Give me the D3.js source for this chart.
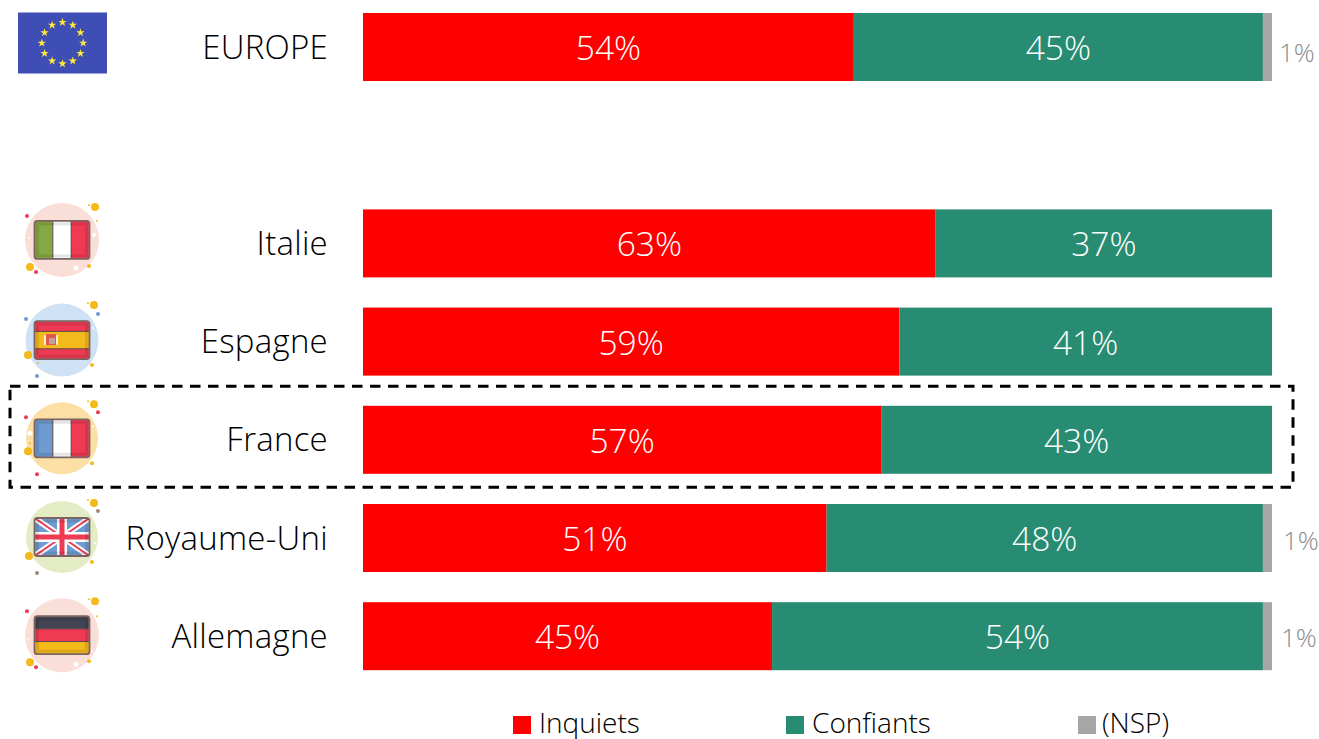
<!DOCTYPE html>
<html lang="fr">
<head>
<meta charset="utf-8">
<title>Inquiets / Confiants</title>
<script src="https://cdn.jsdelivr.net/npm/d3@7"></script>
<style>
    html, body { margin: 0; padding: 0; background: #fff; overflow: hidden; }
    svg { display: block; font-family: "Open Sans", sans-serif; font-weight: 300; }
    .axis path { display: none; }
    .axis text { font-family: "Open Sans", sans-serif; font-weight: 300; font-size: 33px; fill: #000; letter-spacing: .25px; }
    .value { font-size: 33.5px; fill: #fff; text-anchor: middle; }
    .nsp-label { font-size: 26px; fill: #8c8c8c; }
    .legend text { font-size: 28px; fill: #000; }
</style>
</head>
<body>
<div id="chart"></div>
<script>
var countries = ["EUROPE", "", "Italie", "Espagne", "France", "Royaume-Uni", "Allemagne"];
var seriesNames = ["Inquiets", "Confiants", "(NSP)"];
var inquiets = [54, null, 63, 59, 57, 51, 45];
var confiants = [45, null, 37, 41, 43, 48, 54];
var nsp = [1, null, 0, 0, 0, 1, 1];
var colors = ["#ff0000", "#288c72", "#a6a6a6"];

// the 1% labels don't sit on one line in the original
var nspNudge = { "EUROPE": [7, 6], "Royaume-Uni": [11, 3], "Allemagne": [9, 1] };

var width = 1319,
    height = 739,
    margin = { top: 13, left: 363, right: 47 };

var svg = d3.select("#chart").append("svg")
    .attr("width", width)
    .attr("height", height);

var x = d3.scaleLinear()
    .domain([0, 100])
    .range([margin.left, width - margin.right]);

var y = d3.scaleBand()
    .domain(countries)
    .range([margin.top, margin.top + 98.2 * 7 - 30.2])
    .paddingInner(30.2 / 98.2);

var color = d3.scaleOrdinal(seriesNames, colors);

var rows = countries.map(function (c, i) {
    return { country: c, "Inquiets": inquiets[i], "Confiants": confiants[i], "(NSP)": nsp[i] };
}).filter(function (d) { return d.country !== ""; });

var stacked = d3.stack().keys(seriesNames)(rows);

// France highlight box goes under the bars
svg.append("rect")
    .attr("x", 10)
    .attr("y", y("France") - 19.5)
    .attr("width", 1283)
    .attr("height", 101)
    .attr("fill", "none")
    .attr("stroke", "#000")
    .attr("stroke-width", 3)
    .attr("stroke-dasharray", "10.5,7.5");

var layer = svg.selectAll(".layer")
    .data(stacked)
    .enter().append("g")
    .attr("class", "layer")
    .attr("fill", function (d) { return color(d.key); });

layer.selectAll("rect")
    .data(function (d) { return d; })
    .enter().append("rect")
    .attr("x", function (d) { return x(d[0]); })
    .attr("y", function (d) { return y(d.data.country); })
    .attr("width", function (d) { return x(d[1]) - x(d[0]); })
    .attr("height", y.bandwidth());

// white labels for red and green only
svg.selectAll(".value-group")
    .data(stacked.slice(0, 2))
    .enter().append("g")
    .attr("class", "value-group")
    .selectAll("text")
    .data(function (d) { return d; })
    .enter().append("text")
    .attr("class", "value")
    .attr("x", function (d) { return (x(d[0]) + x(d[1])) / 2; })
    .attr("y", function (d) { return y(d.data.country) + y.bandwidth() / 2 + 1; })
    .attr("dy", ".36em")
    .text(function (d) { return (d[1] - d[0]) + "%"; });

svg.selectAll(".nsp-label")
    .data(rows.filter(function (d) { return d["(NSP)"] > 0; }))
    .enter().append("text")
    .attr("class", "nsp-label")
    .attr("x", function (d) { return x(100) + nspNudge[d.country][0]; })
    .attr("y", function (d) { return y(d.country) + y.bandwidth() / 2 + nspNudge[d.country][1]; })
    .attr("dy", ".36em")
    .text(function (d) { return d["(NSP)"] + "%"; });

var yAxis = d3.axisLeft(y)
    .tickSize(0)
    .tickPadding(35);

svg.append("g")
    .attr("class", "axis")
    .attr("transform", "translate(" + margin.left + ",1)")
    .call(yAxis);

// legend
var legendX = [513, 786, 1078];
var legendTextX = [26, 26, 24];
var legend = svg.selectAll(".legend")
    .data(seriesNames)
    .enter().append("g")
    .attr("class", "legend")
    .attr("transform", function (d, i) { return "translate(" + legendX[i] + ",716)"; });

legend.append("rect")
    .attr("width", 18)
    .attr("height", 18)
    .attr("fill", function (d) { return color(d); });

legend.append("text")
    .attr("x", function (d, i) { return legendTextX[i]; })
    .attr("y", 16.5)
    .text(function (d) { return d; });

// ---- flags ----
var yellow = "#f4b91a", red = "#ef3a54", blue = "#6e9bd1", white = "#fff", brown = "#a08a76";

var flagSpecs = {
    "Italie": { bg: "#f9dfd7", r: 37, dy: -3.5, dots: [[33, -33, 4, yellow], [27, -35, 1, yellow], [-35, -24, 2, red], [35, -19, 1, yellow], [-33, -2, 1, white], [32, -5, 2, white], [-32, 27, 4, yellow], [-26, 32, 2, red], [14, 28, 2.5, white], [27, 26, 2, yellow]] },
    "Espagne": { bg: "#cfe1f4", r: 36.5, dy: -1.5, dots: [[32, -35, 4, yellow], [26, -37, 1, yellow], [36, -26, 2, blue], [-36, -21, 2, blue], [31, -12, 1, white], [-34, 15, 4, yellow], [-24, 23, 1, yellow], [-25, 36, 2, blue], [30, 25, 2, yellow]] },
    "France": { bg: "#fbdfa4", r: 36, dy: -1.5, dots: [[32, -34, 4, yellow], [26, -37, 1, yellow], [36, -26, 2, red], [-36, -21, 2, red], [-32, -5, 2.5, white], [-32, 5, 1, yellow], [-34, 13, 4, yellow], [-25, 36, 2, red], [30, 25, 2, yellow], [31, -12, 1, white]] },
    "Royaume-Uni": { bg: "#e4ecc6", r: 36, dy: -1, dots: [[32, -34, 4, yellow], [26, -37, 1, yellow], [36, -26, 2, brown], [33, 6, 1, white], [-33, 19, 4, yellow], [-25, 36, 2, brown], [30, 25, 2, yellow]] },
    "Allemagne": { bg: "#f9dfd7", r: 37, dy: -1, dots: [[33, -34, 4, yellow], [27, -36, 1, yellow], [-35, -24, 2, red], [35, -19, 1, yellow], [-34, 4, 1, white], [-32, 27, 4, yellow], [-26, 32, 2, red], [14, 29, 2.5, white], [27, 26, 2, yellow], [30, 16, 1, white]] }
};

var flagW = 55, flagH = 38, flagCx = 62;

function stripes(g, list, vertical) {
    list.forEach(function (s) {
        g.append("rect")
            .attr("x", vertical ? -flagW / 2 + flagW * s[0] : -flagW / 2)
            .attr("y", vertical ? -flagH / 2 : -flagH / 2 + flagH * s[0])
            .attr("width", vertical ? flagW * s[1] : flagW)
            .attr("height", vertical ? flagH : flagH * s[1])
            .attr("fill", s[2]);
    });
}

function dividers(g, list, vertical) {
    list.forEach(function (p) {
        g.append("line")
            .attr("x1", vertical ? -flagW / 2 + flagW * p : -flagW / 2)
            .attr("x2", vertical ? -flagW / 2 + flagW * p : flagW / 2)
            .attr("y1", vertical ? -flagH / 2 : -flagH / 2 + flagH * p)
            .attr("y2", vertical ? flagH / 2 : -flagH / 2 + flagH * p)
            .attr("stroke", "#5a4a4a")
            .attr("stroke-width", 1);
    });
}

function paintUnion(g) {
    stripes(g, [[0, 1, blue]], false);
    var w = flagW / 2, h = flagH / 2;
    g.append("path").attr("d", "M" + -w + "," + -h + "L" + w + "," + h + "M" + w + "," + -h + "L" + -w + "," + h)
        .attr("stroke", white).attr("stroke-width", 6);
    g.append("path").attr("d", "M" + -w + "," + -h + "L" + w + "," + h + "M" + w + "," + -h + "L" + -w + "," + h)
        .attr("stroke", red).attr("stroke-width", 2);
    g.append("path").attr("d", "M0," + -h + "V" + h + "M" + -w + ",0H" + w)
        .attr("stroke", white).attr("stroke-width", 10);
    g.append("path").attr("d", "M0," + -h + "V" + h + "M" + -w + ",0H" + w)
        .attr("stroke", red).attr("stroke-width", 5);
}

function paintFlag(g, name) {
    var clipId = "clip-" + name.replace(/\W/g, "");
    g.append("clipPath").attr("id", clipId).append("rect")
        .attr("x", -flagW / 2).attr("y", -flagH / 2)
        .attr("width", flagW).attr("height", flagH).attr("rx", 3);
    var inner = g.append("g").attr("clip-path", "url(#" + clipId + ")");

    if (name === "Italie") {
        stripes(inner, [[0, 1 / 3, "#86a943"], [1 / 3, 1 / 3, white], [2 / 3, 1 / 3, red]], true);
        dividers(inner, [1 / 3, 2 / 3], true);
    } else if (name === "France") {
        stripes(inner, [[0, 1 / 3, blue], [1 / 3, 1 / 3, white], [2 / 3, 1 / 3, red]], true);
        dividers(inner, [1 / 3, 2 / 3], true);
    } else if (name === "Espagne") {
        stripes(inner, [[0, 1, red], [0.27, 0.46, yellow]], false);
        dividers(inner, [0.27, 0.73], false);
        inner.append("rect").attr("x", -16).attr("y", -6).attr("width", 10).attr("height", 11).attr("fill", "#e2574c");
        inner.append("rect").attr("x", -13).attr("y", -2).attr("width", 6).attr("height", 6).attr("fill", "#c3a0a0");
        inner.append("path").attr("d", "M-17,-5V5M-5,-5V5").attr("stroke", "#fff").attr("stroke-width", 1.5);
    } else if (name === "Royaume-Uni") {
        paintUnion(inner);
    } else if (name === "Allemagne") {
        stripes(inner, [[0, 1 / 3, "#434554"], [1 / 3, 1 / 3, red], [2 / 3, 1 / 3, yellow]], false);
        dividers(inner, [1 / 3, 2 / 3], false);
    }

    // darker inner rim and outer border of the icon
    inner.append("rect")
        .attr("x", -flagW / 2 + 3).attr("y", -flagH / 2 + 3)
        .attr("width", flagW - 6).attr("height", flagH - 6)
        .attr("fill", "none")
        .attr("stroke", "#000").attr("stroke-opacity", 0.1).attr("stroke-width", 3);

    g.append("rect")
        .attr("x", -flagW / 2).attr("y", -flagH / 2)
        .attr("width", flagW).attr("height", flagH).attr("rx", 3)
        .attr("fill", "none")
        .attr("stroke", "#7a6360").attr("stroke-width", 1.8);
}

Object.keys(flagSpecs).forEach(function (name) {
    var spec = flagSpecs[name];
    var g = svg.append("g")
        .attr("class", "flag")
        .attr("transform", "translate(" + flagCx + "," + (y(name) + y.bandwidth() / 2 + spec.dy) + ")");

    g.append("circle").attr("r", spec.r).attr("fill", spec.bg);

    g.selectAll(".dot")
        .data(spec.dots)
        .enter().append("circle")
        .attr("class", "dot")
        .attr("cx", function (d) { return d[0]; })
        .attr("cy", function (d) { return d[1]; })
        .attr("r", function (d) { return d[2]; })
        .attr("fill", function (d) { return d[3]; });

    paintFlag(g, name);
});

// EU flag
var eu = svg.append("g")
    .attr("class", "flag")
    .attr("transform", "translate(62.5," + (y("EUROPE") + y.bandwidth() / 2 - 4) + ")");

eu.append("rect")
    .attr("x", -44.5).attr("y", -30.5)
    .attr("width", 89).attr("height", 61)
    .attr("fill", "#3f4eb4");

eu.selectAll("path")
    .data(d3.range(12))
    .enter().append("path")
    .attr("d", d3.symbol().type(d3.symbolStar).size(22))
    .attr("fill", "#ffe93b")
    .attr("transform", function (i) {
        var a = i * Math.PI / 6;
        return "translate(" + (20.7 * Math.sin(a)) + "," + (-20.7 * Math.cos(a)) + ")";
    });
</script>
</body>
</html>
